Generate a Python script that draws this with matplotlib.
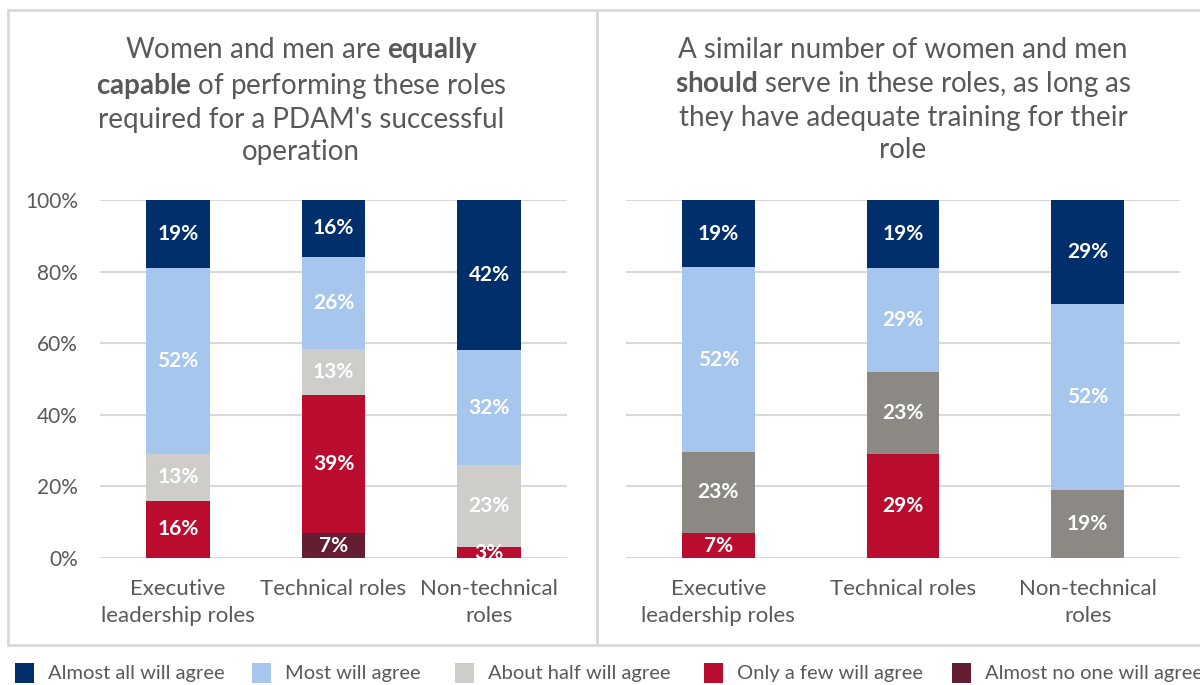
import matplotlib
matplotlib.use("Agg")
import matplotlib.pyplot as plt
from matplotlib.patches import Rectangle
import numpy as np

plt.rcParams['font.family'] = ['Lato', 'DejaVu Sans']
plt.rcParams['mathtext.fontset'] = 'custom'
plt.rcParams['mathtext.rm'] = 'Lato'
plt.rcParams['mathtext.bf'] = 'Lato:bold'

# ---------------- data ----------------
categories = ["Executive\nleadership roles", "Technical roles", "Non-technical\nroles"]
series_names = ["Almost all will agree", "Most will agree", "About half will agree",
                "Only a few will agree", "Almost no one will agree"]

# left panel: equally capable (percent labels per category)
left_almost_none = [0, 7, 0]
left_few = [16, 39, 3]
left_half = [13, 13, 23]
left_most = [52, 26, 32]
left_almost_all = [19, 16, 42]

# right panel: similar number should serve
right_almost_none = [0, 0, 0]
right_few = [7, 29, 0]
right_half = [23, 23, 19]
right_most = [52, 29, 52]
right_almost_all = [19, 19, 29]

left_title = ("Women and men are $\\mathbf{equally}$\n"
              "$\\mathbf{capable}$ of performing these roles\n"
              "required for a PDAM's successful\n"
              "operation")
right_title = ("A similar number of women and men\n"
               "$\\mathbf{should}$ serve in these roles, as long as\n"
               "they have adequate training for their\n"
               "role")

yticks = [0, 20, 40, 60, 80, 100]
ytick_labels = ["0%", "20%", "40%", "60%", "80%", "100%"]

# ---------------- style ----------------
C_NAVY = "#002F6C"
C_LBLUE = "#A7C6ED"
C_LGRAY = "#CFCDC9"
C_MGRAY = "#8C8985"
C_RED = "#BA0C2F"
C_DRED = "#651D32"
TXT = "#595959"
GRID = "#D9D9D9"

W, H = 1200, 685
fig = plt.figure(figsize=(W / 100, H / 100), dpi=100)

def fx(px):
    return px / W

def fy(py):
    return 1 - py / H

# panel borders
for (x0, x1) in [(8, 597), (597, 1210)]:
    fig.patches.append(Rectangle((fx(x0), fy(645)), fx(x1 - x0), (645 - 10) / H,
                                 transform=fig.transFigure, fill=False,
                                 edgecolor=GRID, linewidth=2, zorder=0))

def draw_panel(rect, stacks, colors, title, title_x, bar_width):
    ax = fig.add_axes(rect)
    x = np.arange(len(categories))
    totals = np.sum([np.array(s, dtype=float) for s in stacks], axis=0)
    bottom = np.zeros(len(categories))
    for vals, col in zip(stacks, colors):
        vals = np.array(vals, dtype=float)
        h = vals / totals * 100
        ax.bar(x, h, bottom=bottom, width=bar_width, color=col, zorder=3, linewidth=0)
        for xi, hi, bi, vi in zip(x, h, bottom, vals):
            if vi > 0:
                ax.text(xi, bi + hi / 2, f"{int(vi)}%", ha="center", va="center",
                        color="white", fontsize=15, fontweight="bold", zorder=4)
        bottom += h
    ax.set_xlim(-0.5, len(categories) - 0.5)
    ax.set_ylim(0, 100)
    ax.set_yticks(yticks)
    ax.set_yticklabels(ytick_labels)
    ax.yaxis.grid(True, color=GRID, linewidth=1.5, zorder=0)
    ax.set_axisbelow(True)
    for s in ax.spines.values():
        s.set_visible(False)
    ax.tick_params(axis="x", length=0, labelsize=16, colors=TXT, pad=15)
    ax.tick_params(axis="y", length=0, labelsize=15, colors=TXT, pad=16)
    ax.set_xticks(x)
    ax.set_xticklabels(categories, linespacing=1.45)
    fig.text(title_x, fy(100), title, ha="center", va="center", fontsize=20,
             color=TXT, linespacing=1.27)
    return ax

stack_colors_left = [C_DRED, C_RED, C_LGRAY, C_LBLUE, C_NAVY]
stack_colors_right = [C_DRED, C_RED, C_MGRAY, C_LBLUE, C_NAVY]

axL = draw_panel([fx(100), fy(558), fx(567 - 100), (558 - 200) / H],
                 [left_almost_none, left_few, left_half, left_most, left_almost_all],
                 stack_colors_left, left_title, fx(301), 0.41)
axR = draw_panel([fx(626), fy(558), fx(1180 - 626), (558 - 200) / H],
                 [right_almost_none, right_few, right_half, right_most, right_almost_all],
                 stack_colors_right, right_title, fx(903), 0.395)
axR.set_yticklabels([])

# legend (manual layout to follow the reference spacing)
legend_colors = [C_NAVY, C_LBLUE, C_LGRAY, C_RED, C_DRED]
legend_px = [15, 252, 455, 704, 952]
for px, col, name in zip(legend_px, legend_colors, series_names):
    fig.patches.append(Rectangle((fx(px), fy(683)), fx(19), 20 / H,
                                 transform=fig.transFigure, facecolor=col,
                                 edgecolor="none"))
    fig.text(fx(px + 33), fy(673), name, ha="left", va="center",
             fontsize=14.5, color=TXT)

fig.savefig("out.png", dpi=100)
